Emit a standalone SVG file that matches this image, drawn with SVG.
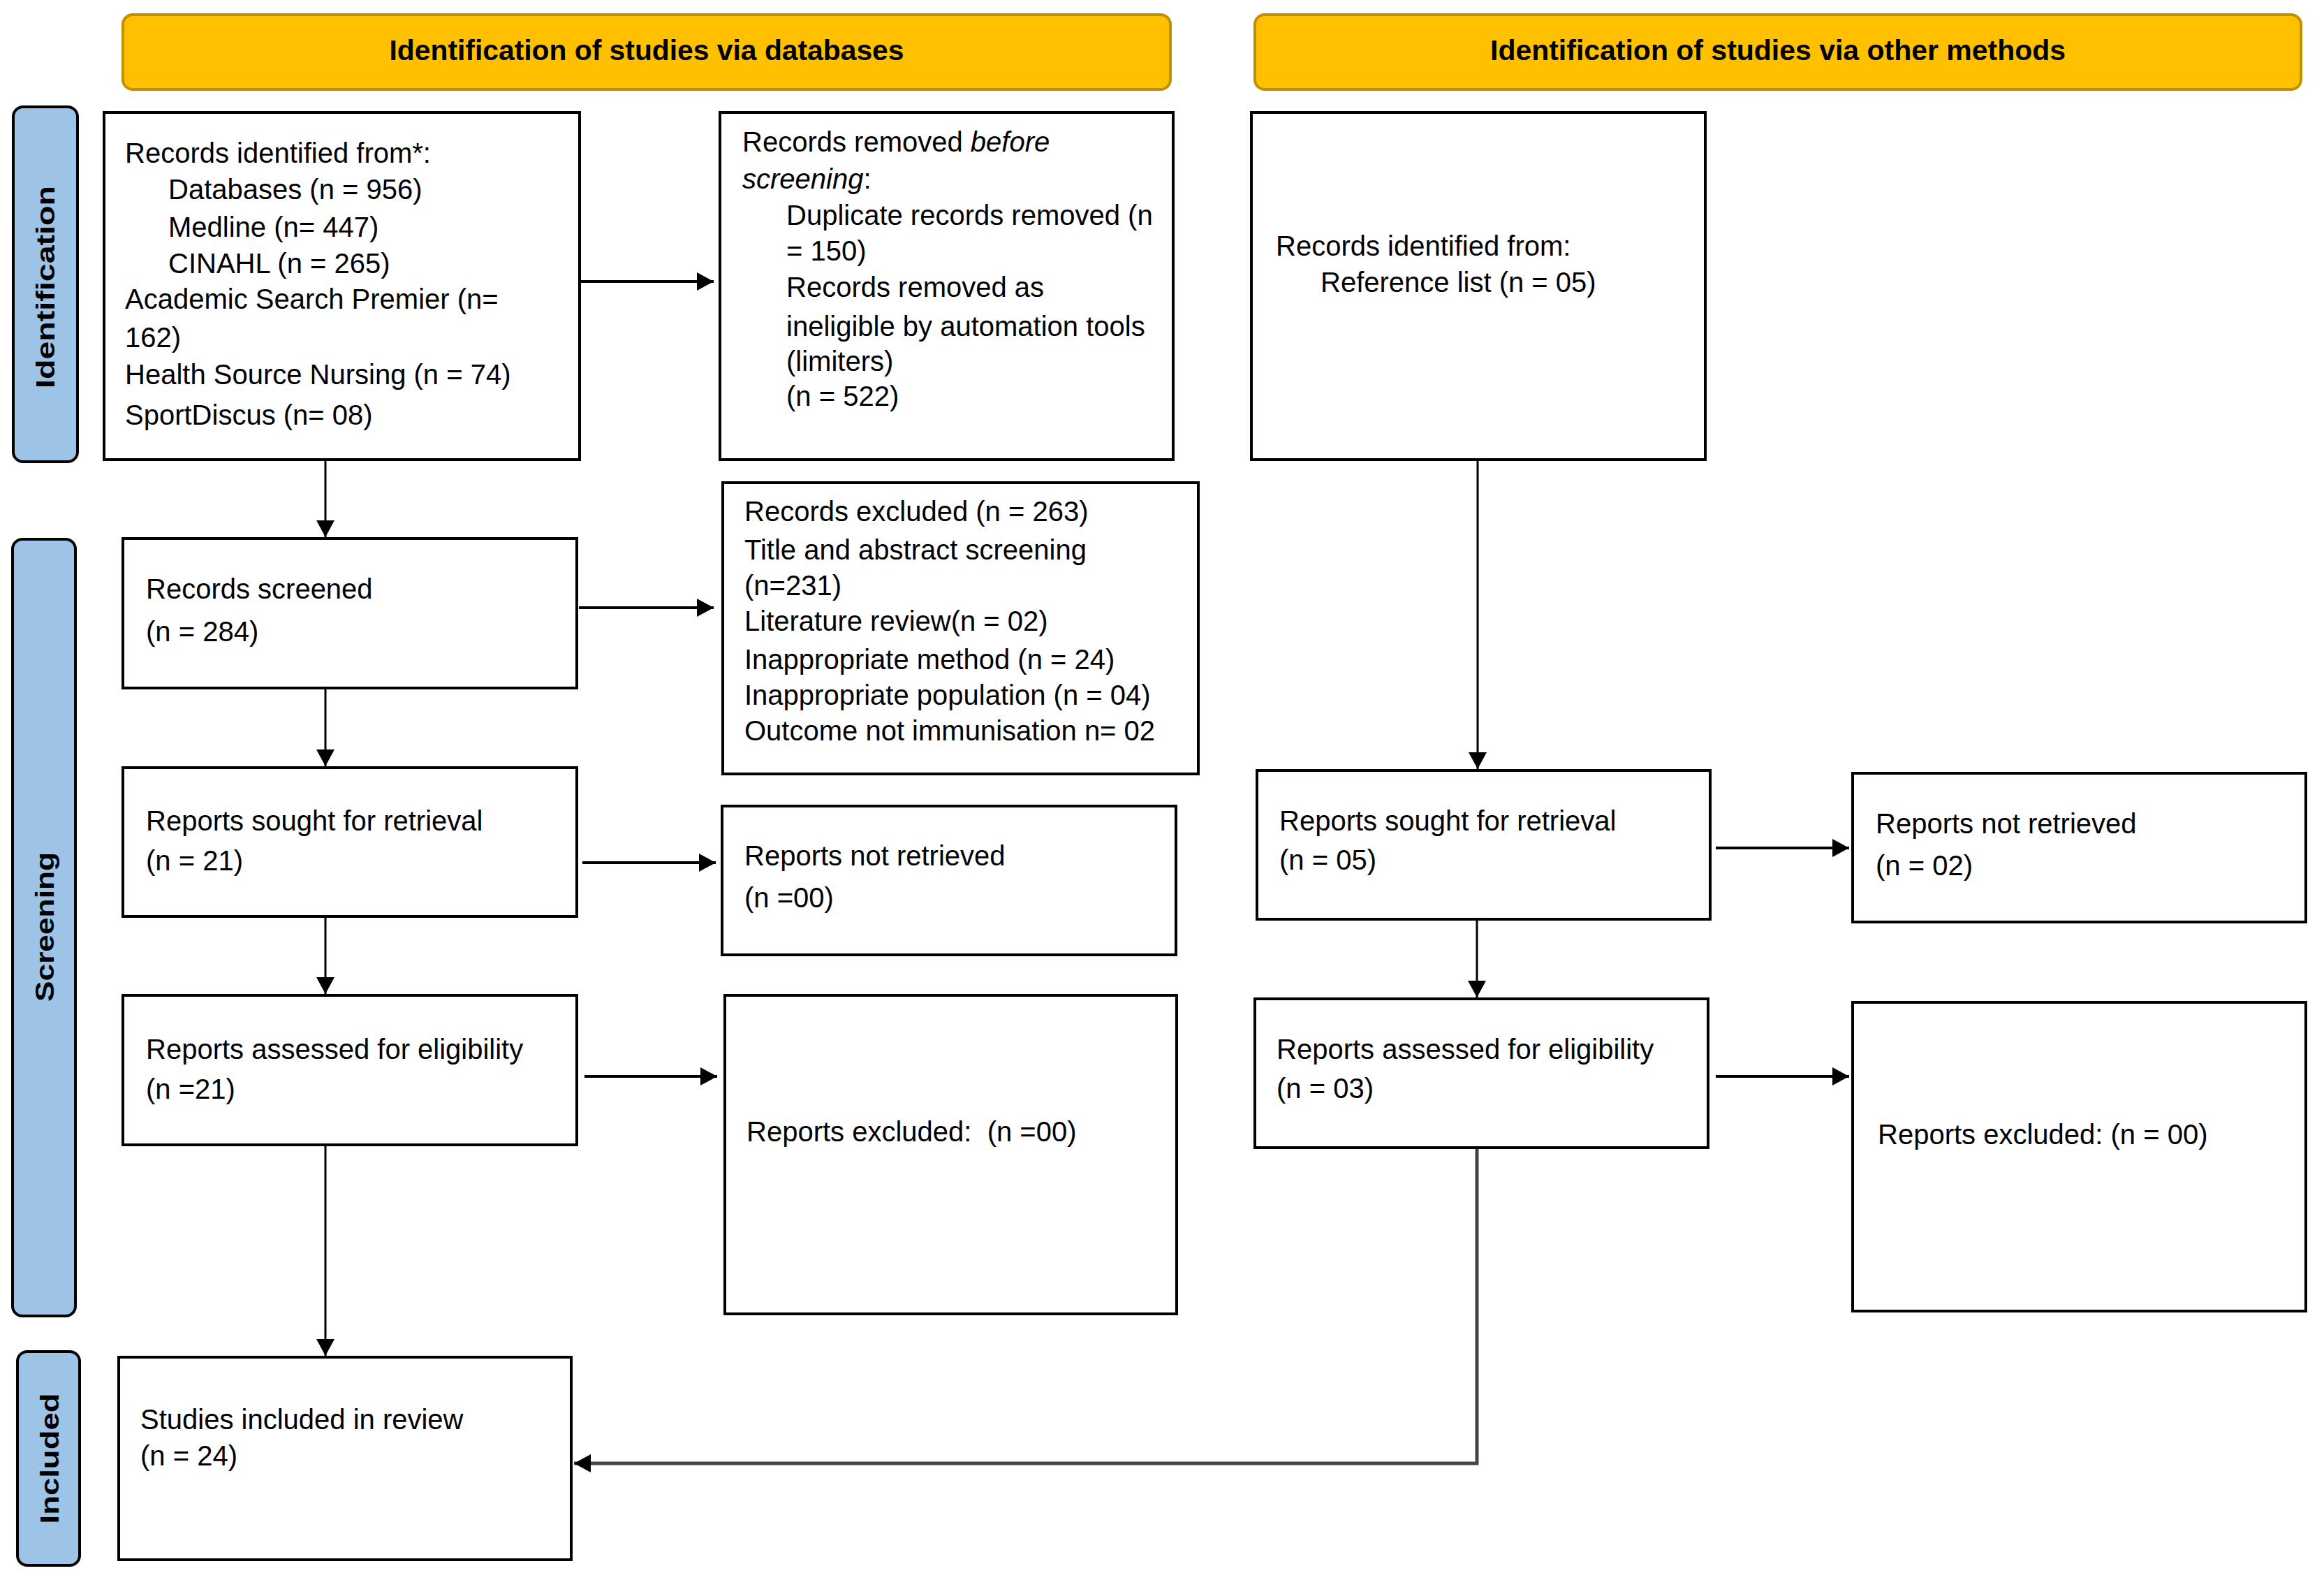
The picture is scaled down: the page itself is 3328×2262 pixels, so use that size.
<svg xmlns="http://www.w3.org/2000/svg" width="3328" height="2262" viewBox="0 0 3328 2262">
<style>
text{font-family:"Liberation Sans",Arial,sans-serif;fill:#000}
.t{font-size:40px}
.hd{font-size:40px;font-weight:bold;text-anchor:middle}
.side{font-size:36px;font-weight:bold;text-anchor:middle}
.box{fill:#fff;stroke:#000;stroke-width:4}
.hbox{fill:#FFC000;stroke:#BF9000;stroke-width:4}
.sbox{fill:#9DC3E6;stroke:#000;stroke-width:4}
.v{fill:none;stroke:#000;stroke-width:3}
.h{fill:none;stroke:#000;stroke-width:4}
.g{fill:none;stroke:#444;stroke-width:5}
</style>
<defs>
<marker id="ah" viewBox="0 0 24 26" refX="24" refY="13" markerWidth="24" markerHeight="26" markerUnits="userSpaceOnUse" orient="auto">
<path d="M0,0 L24,13 L0,26 z" fill="#000"/>
</marker>
</defs>
<rect width="3328" height="2262" fill="#fff"/>

<g id="header-databases">
<rect class="hbox" x="176" y="21" width="1500" height="107" rx="14"/>
<text class="hd" x="926" y="86" textLength="737" lengthAdjust="spacingAndGlyphs">Identification of studies via databases</text>
</g>
<g id="header-other">
<rect class="hbox" x="1797" y="21" width="1498" height="107" rx="14"/>
<text class="hd" x="2546" y="86" textLength="824" lengthAdjust="spacingAndGlyphs">Identification of studies via other methods</text>
</g>

<g id="side-identification">
<rect class="sbox" x="19" y="153" width="92" height="508" rx="14"/>
<text class="side" x="78" y="411" transform="rotate(-90 78 411)" textLength="290" lengthAdjust="spacingAndGlyphs">Identification</text>
</g>
<g id="side-screening">
<rect class="sbox" x="18" y="772" width="90" height="1112" rx="14"/>
<text class="side" x="77" y="1327" transform="rotate(-90 77 1327)" textLength="214" lengthAdjust="spacingAndGlyphs">Screening</text>
</g>
<g id="side-included">
<rect class="sbox" x="25" y="1935" width="89" height="306" rx="14"/>
<text class="side" x="84" y="2088" transform="rotate(-90 84 2088)" textLength="187" lengthAdjust="spacingAndGlyphs">Included</text>
</g>

<g id="records-identified">
<rect class="box" x="149" y="161" width="681" height="497"/>
<text class="t" x="179" y="233">Records identified from*:</text>
<text class="t" x="241" y="285">Databases (n = 956)</text>
<text class="t" x="241" y="339">Medline (n= 447)</text>
<text class="t" x="241" y="391">CINAHL (n = 265)</text>
<text class="t" x="179" y="442">Academic Search Premier (n=</text>
<text class="t" x="179" y="497">162)</text>
<text class="t" x="179" y="550">Health Source Nursing (n = 74)</text>
<text class="t" x="179" y="608">SportDiscus (n= 08)</text>
</g>

<g id="records-removed">
<rect class="box" x="1031" y="161" width="649" height="497"/>
<text class="t" x="1063" y="217">Records removed <tspan font-style="italic">before</tspan></text>
<text class="t" x="1063" y="270"><tspan font-style="italic">screening</tspan>:</text>
<text class="t" x="1126" y="322">Duplicate records removed (n</text>
<text class="t" x="1126" y="373">= 150)</text>
<text class="t" x="1126" y="425">Records removed as</text>
<text class="t" x="1126" y="481">ineligible by automation tools</text>
<text class="t" x="1126" y="531">(limiters)</text>
<text class="t" x="1126" y="581">(n = 522)</text>
</g>

<g id="records-other">
<rect class="box" x="1792" y="161" width="650" height="497"/>
<text class="t" x="1827" y="366">Records identified from:</text>
<text class="t" x="1891" y="418">Reference list (n = 05)</text>
</g>

<g id="records-screened">
<rect class="box" x="176" y="771" width="650" height="214"/>
<text class="t" x="209" y="857">Records screened</text>
<text class="t" x="209" y="918">(n = 284)</text>
</g>

<g id="records-excluded">
<rect class="box" x="1035" y="691" width="681" height="417"/>
<text class="t" x="1066" y="746">Records excluded (n = 263)</text>
<text class="t" x="1066" y="801">Title and abstract screening</text>
<text class="t" x="1066" y="852">(n=231)</text>
<text class="t" x="1066" y="903">Literature review(n = 02)</text>
<text class="t" x="1066" y="958">Inappropriate method (n = 24)</text>
<text class="t" x="1066" y="1009">Inappropriate population (n = 04)</text>
<text class="t" x="1066" y="1060">Outcome not immunisation n= 02</text>
</g>

<g id="sought-db">
<rect class="box" x="176" y="1099" width="650" height="213"/>
<text class="t" x="209" y="1189">Reports sought for retrieval</text>
<text class="t" x="209" y="1246">(n = 21)</text>
</g>

<g id="notretrieved-db">
<rect class="box" x="1034" y="1154" width="650" height="213"/>
<text class="t" x="1066" y="1239">Reports not retrieved</text>
<text class="t" x="1066" y="1299">(n =00)</text>
</g>

<g id="assessed-db">
<rect class="box" x="176" y="1425" width="650" height="214"/>
<text class="t" x="209" y="1516">Reports assessed for eligibility</text>
<text class="t" x="209" y="1573">(n =21)</text>
</g>

<g id="excluded-db">
<rect class="box" x="1038" y="1425" width="647" height="456"/>
<text class="t" x="1069" y="1634" xml:space="preserve">Reports excluded:  (n =00)</text>
</g>

<g id="included">
<rect class="box" x="170" y="1943" width="648" height="290"/>
<text class="t" x="201" y="2046">Studies included in review</text>
<text class="t" x="201" y="2098">(n = 24)</text>
</g>

<g id="sought-other">
<rect class="box" x="1800" y="1103" width="649" height="213"/>
<text class="t" x="1832" y="1189">Reports sought for retrieval</text>
<text class="t" x="1832" y="1245">(n = 05)</text>
</g>

<g id="notretrieved-other">
<rect class="box" x="2653" y="1107" width="649" height="213"/>
<text class="t" x="2686" y="1193">Reports not retrieved</text>
<text class="t" x="2686" y="1253">(n = 02)</text>
</g>

<g id="assessed-other">
<rect class="box" x="1797" y="1430" width="649" height="213"/>
<text class="t" x="1828" y="1516">Reports assessed for eligibility</text>
<text class="t" x="1828" y="1572">(n = 03)</text>
</g>

<g id="excluded-other">
<rect class="box" x="2653" y="1435" width="649" height="442"/>
<text class="t" x="2689" y="1638">Reports excluded: (n = 00)</text>
</g>

<g id="connectors">
<path class="h" d="M832,403 H1022" marker-end="url(#ah)"/>
<path class="v" d="M466,660 V769" marker-end="url(#ah)"/>
<path class="h" d="M829,870 H1022" marker-end="url(#ah)"/>
<path class="v" d="M466,987 V1097" marker-end="url(#ah)"/>
<path class="h" d="M834,1235 H1025" marker-end="url(#ah)"/>
<path class="v" d="M466,1314 V1423" marker-end="url(#ah)"/>
<path class="h" d="M837,1541 H1027" marker-end="url(#ah)"/>
<path class="v" d="M466,1641 V1941" marker-end="url(#ah)"/>
<path class="v" d="M2116,660 V1101" marker-end="url(#ah)"/>
<path class="h" d="M2457,1214 H2648" marker-end="url(#ah)"/>
<path class="v" d="M2115,1318 V1428" marker-end="url(#ah)"/>
<path class="h" d="M2457,1541 H2648" marker-end="url(#ah)"/>
<path class="g" d="M2115,1645 V2095 H822" marker-end="url(#ah)"/>
</g>
</svg>
